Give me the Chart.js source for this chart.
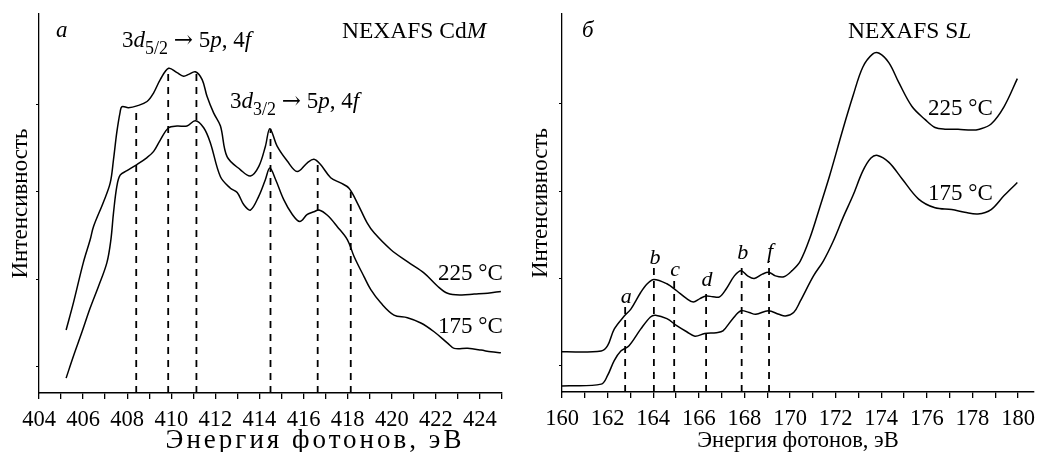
<!DOCTYPE html>
<html lang="ru">
<head>
    <meta charset="UTF-8">
    <title>NEXAFS CdM / SL</title>
    <script src="https://cdn.jsdelivr.net/npm/chart.js"></script>
    <style>
        body { margin: 0; background: #fff; }
        .panel { position: absolute; top: 0; height: 452px; }
    </style>
</head>
<body>
    <div class="panel" style="left:0;width:520px"><canvas id="cdChart"></canvas></div>
    <div class="panel" style="left:520px;width:523px"><canvas id="sChart"></canvas></div>

    <script>
        // --- Cd M edge (panel a) ---
        const cdE225 = [405.23, 405.56, 406.01, 406.32, 406.47, 406.92, 407.23, 407.38, 407.53, 407.68, 407.76, 408.06, 408.44, 408.90, 409.20, 409.50, 409.88, 410.26, 410.56, 410.79, 411.09, 411.40, 411.62, 411.92, 412.23, 412.53, 413.14, 413.59, 413.97, 414.27, 414.47, 414.80, 415.26, 415.71, 416.17, 416.47, 416.77, 417.23, 417.68, 418.06, 418.44, 418.89, 419.20, 419.95, 420.71, 421.47, 422.08, 422.53, 423.14, 423.74, 424.35, 424.95];
        const cdI225 = [0.42, 0.73, 1.19, 1.45, 1.60, 1.88, 2.10, 2.37, 2.68, 2.91, 2.97, 2.96, 2.98, 3.03, 3.13, 3.28, 3.41, 3.36, 3.32, 3.34, 3.37, 3.28, 3.09, 2.90, 2.75, 2.40, 2.25, 2.18, 2.29, 2.52, 2.72, 2.52, 2.35, 2.23, 2.33, 2.37, 2.31, 2.16, 2.10, 2.04, 1.87, 1.64, 1.53, 1.34, 1.20, 1.07, 0.92, 0.84, 0.82, 0.83, 0.84, 0.86];
        const cdE175 = [405.23, 405.56, 405.94, 406.32, 406.70, 407.08, 407.26, 407.38, 407.53, 407.68, 407.99, 408.44, 408.90, 409.20, 409.50, 409.88, 410.26, 410.71, 411.09, 411.47, 411.77, 412.23, 412.68, 412.99, 413.29, 413.59, 413.97, 414.27, 414.47, 414.73, 415.10, 415.49, 415.83, 416.17, 416.47, 416.70, 417.08, 417.53, 417.99, 418.29, 418.74, 419.05, 419.50, 420.10, 420.71, 421.32, 421.92, 422.53, 422.83, 423.44, 424.05, 424.50, 424.95];
        const cdI175 = [-0.13, 0.12, 0.39, 0.67, 0.92, 1.19, 1.45, 1.76, 2.06, 2.19, 2.24, 2.31, 2.39, 2.46, 2.59, 2.73, 2.75, 2.75, 2.81, 2.73, 2.56, 2.17, 2.04, 1.99, 1.85, 1.79, 1.95, 2.14, 2.27, 2.14, 1.91, 1.74, 1.66, 1.74, 1.77, 1.79, 1.73, 1.60, 1.45, 1.26, 1.03, 0.88, 0.73, 0.59, 0.56, 0.50, 0.40, 0.27, 0.21, 0.21, 0.19, 0.17, 0.16];
        const cdLineE = [408.41, 409.86, 411.14, 414.5, 416.64, 418.14];
        const cdLineTop = [2.96, 3.39, 3.37, 2.72, 2.33, 2.0];

        // --- S L edge (panel б) ---
        const sE225 = [160.00, 161.72, 162.00, 162.29, 162.73, 163.02, 163.45, 163.74, 164.03, 164.60, 165.03, 165.47, 165.76, 166.05, 166.33, 166.62, 166.91, 167.20, 167.56, 167.85, 168.14, 168.43, 168.79, 169.08, 169.36, 169.73, 170.09, 170.45, 170.88, 171.31, 171.74, 172.32, 172.76, 173.19, 173.62, 173.91, 174.34, 174.78, 175.35, 175.93, 176.36, 176.80, 177.37, 177.95, 178.31, 178.82, 179.39, 179.97];
        const sI225 = [0.16, 0.17, 0.23, 0.42, 0.57, 0.65, 0.84, 0.94, 0.99, 0.94, 0.86, 0.77, 0.73, 0.77, 0.80, 0.79, 0.79, 0.88, 1.03, 1.09, 1.03, 1.00, 1.05, 1.07, 1.03, 1.02, 1.09, 1.20, 1.47, 1.82, 2.18, 2.71, 3.09, 3.42, 3.57, 3.58, 3.47, 3.24, 2.97, 2.82, 2.73, 2.71, 2.71, 2.70, 2.71, 2.77, 2.97, 3.29];
        const sE175 = [160.00, 161.72, 162.00, 162.29, 162.58, 162.94, 163.45, 163.88, 164.10, 164.60, 165.03, 165.47, 165.83, 166.26, 166.77, 167.06, 167.49, 167.85, 168.21, 168.50, 169.05, 169.51, 169.80, 170.16, 170.45, 171.03, 171.46, 171.90, 172.33, 172.76, 173.19, 173.55, 173.84, 174.34, 174.92, 175.64, 176.36, 177.09, 177.66, 178.24, 178.82, 179.39, 179.97];
        const sI175 = [-0.23, -0.21, -0.11, 0.06, 0.17, 0.23, 0.42, 0.56, 0.58, 0.54, 0.46, 0.39, 0.34, 0.37, 0.38, 0.40, 0.54, 0.63, 0.61, 0.59, 0.63, 0.59, 0.57, 0.61, 0.74, 1.03, 1.20, 1.43, 1.70, 1.95, 2.23, 2.38, 2.41, 2.33, 2.14, 1.91, 1.81, 1.79, 1.76, 1.74, 1.79, 1.95, 2.10];
        const sLineE = [162.77, 164.03, 164.92, 166.32, 167.88, 169.08];
        const sLineTop = [0.69, 1.13, 1.0, 0.88, 1.19, 1.20];
        const sLineLabels = ['a', 'b', 'c', 'd', 'b', 'f'];

        const cdTicks = [404, 405, 406, 407, 408, 409, 410, 411, 412, 413, 414, 415, 416, 417, 418, 419, 420, 421, 422, 423, 424, 425];
        const sTicks = [160, 161, 162, 163, 164, 165, 166, 167, 168, 169, 170, 171, 172, 173, 174, 175, 176, 177, 178, 179, 180];
        const yTicks = [0, 1, 2, 3];

        const SERIF = '"Liberation Serif", "Times New Roman", serif';
        Chart.defaults.font.family = SERIF;
        Chart.defaults.color = '#000';

        function zip(xs, ys) {
            return xs.map((x, i) => ({ x: x, y: ys[i] }));
        }

        function curve(xs, ys) {
            return {
                data: zip(xs, ys),
                borderColor: '#000',
                borderWidth: 1.5,
                pointRadius: 0,
                tension: 0.35,
                fill: false
            };
        }

        function dashLines(xs, tops) {
            return xs.map((x, i) => ({
                data: [{ x: x, y: -0.3 }, { x: x, y: tops[i] }],
                borderColor: '#000',
                borderWidth: 1.8,
                borderDash: [7, 6],
                pointRadius: 0
            }));
        }

        // mixed text: parts like {t, i (italic), sub, f (font)}
        function rich(ctx, parts, x, y, size) {
            let cx = x;
            parts.forEach(p => {
                const fs = p.sub ? size * 0.78 : size;
                ctx.font = (p.i ? 'italic ' : '') + fs + 'px ' + (p.f || SERIF);
                ctx.fillText(p.t, cx, y + (p.sub ? size * 0.32 : 0));
                cx += ctx.measureText(p.t).width;
            });
        }

        function transition(sub) {
            return [{ t: '3' }, { t: 'd', i: true }, { t: sub, sub: true }, { t: ' ' }, { t: '→', f: '"DejaVu Serif"' },
                    { t: ' 5' }, { t: 'p', i: true }, { t: ', 4' }, { t: 'f', i: true }];
        }

        function axes(ticks, xmin, xmax, yWidth, xHeight) {
            return {
                x: {
                    type: 'linear', min: xmin, max: xmax,
                    afterBuildTicks: s => { s.ticks = ticks.map(v => ({ value: v })); },
                    afterFit: s => { s.height = xHeight; },
                    ticks: {
                        autoSkip: false, maxRotation: 0, padding: 8,
                        font: { size: 22.5 },
                        callback: v => (v % 2 === 0 ? String(v) : '')
                    },
                    grid: { drawOnChartArea: false, color: '#000', lineWidth: 1.3, tickLength: 6 },
                    border: { color: '#000', width: 1.5 }
                },
                y: {
                    type: 'linear', min: -0.3, max: 4.03,
                    afterBuildTicks: s => { s.ticks = yTicks.map(v => ({ value: v })); },
                    afterFit: s => { s.width = yWidth; },
                    ticks: { display: false },
                    grid: { drawOnChartArea: false, color: '#000', lineWidth: 1, tickLength: 3 },
                    border: { color: '#000', width: 1.3 },
                    title: { display: true, text: 'Интенсивность', font: { size: 23 }, padding: { top: 7, bottom: 0 } }
                }
            };
        }

        const common = {
            responsive: true,
            maintainAspectRatio: false,
            animation: false,
            events: [],
            plugins: { legend: { display: false }, tooltip: { enabled: false } }
        };

        // Panel a: Cd M
        new Chart(document.getElementById('cdChart'), {
            type: 'line',
            data: { datasets: [curve(cdE225, cdI225), curve(cdE175, cdI175)].concat(dashLines(cdLineE, cdLineTop)) },
            options: Object.assign({}, common, {
                layout: { padding: { top: 14, right: 18, left: 0, bottom: 0 } },
                scales: axes(cdTicks, 404, 425, 39, 59)
            }),
            plugins: [{
                id: 'cdText',
                afterDraw(chart) {
                    const ctx = chart.ctx;
                    ctx.save();
                    ctx.fillStyle = '#000';
                    ctx.textAlign = 'left';
                    ctx.textBaseline = 'alphabetic';
                    rich(ctx, [{ t: 'а', i: true }], 56, 37, 23);
                    rich(ctx, transition('5/2'), 122, 47, 23);
                    rich(ctx, [{ t: 'NEXAFS Cd' }, { t: 'M', i: true }], 342, 38, 23.5);
                    rich(ctx, transition('3/2'), 230, 108, 23);
                    rich(ctx, [{ t: '225 °C' }], 438, 280, 23);
                    rich(ctx, [{ t: '175 °C' }], 438, 333, 23);
                    ctx.textAlign = 'center';
                    ctx.font = '27px ' + SERIF;
                    ctx.letterSpacing = '3px';
                    ctx.fillText('Энергия фотонов, эВ', 315, 448);
                    ctx.restore();
                }
            }]
        });

        // Panel б: S L
        new Chart(document.getElementById('sChart'), {
            type: 'line',
            data: { datasets: [curve(sE225, sI225), curve(sE175, sI175)].concat(dashLines(sLineE, sLineTop)) },
            options: Object.assign({}, common, {
                layout: { padding: { top: 14, right: 3, left: 0, bottom: 0 } },
                scales: axes(sTicks, 160, 180.7, 42, 60)
            }),
            plugins: [{
                id: 'sText',
                afterDraw(chart) {
                    const ctx = chart.ctx;
                    const xs = chart.scales.x, ys = chart.scales.y;
                    ctx.save();
                    ctx.fillStyle = '#000';
                    ctx.textBaseline = 'alphabetic';
                    ctx.textAlign = 'left';
                    rich(ctx, [{ t: 'б', i: true }], 62, 37, 23);
                    rich(ctx, [{ t: 'NEXAFS S' }, { t: 'L', i: true }], 328, 38, 23.5);
                    rich(ctx, [{ t: '225 °C' }], 408, 115, 23);
                    rich(ctx, [{ t: '175 °C' }], 408, 200, 23);
                    ctx.textAlign = 'center';
                    ctx.font = 'italic 22px ' + SERIF;
                    sLineLabels.forEach((lb, i) => {
                        ctx.fillText(lb, xs.getPixelForValue(sLineE[i]) + 1, ys.getPixelForValue(sLineTop[i]) - 3);
                    });
                    ctx.font = '22.5px ' + SERIF;
                    ctx.fillText('Энергия фотонов, эВ', 278, 447);
                    ctx.restore();
                }
            }]
        });
    </script>
</body>
</html>
